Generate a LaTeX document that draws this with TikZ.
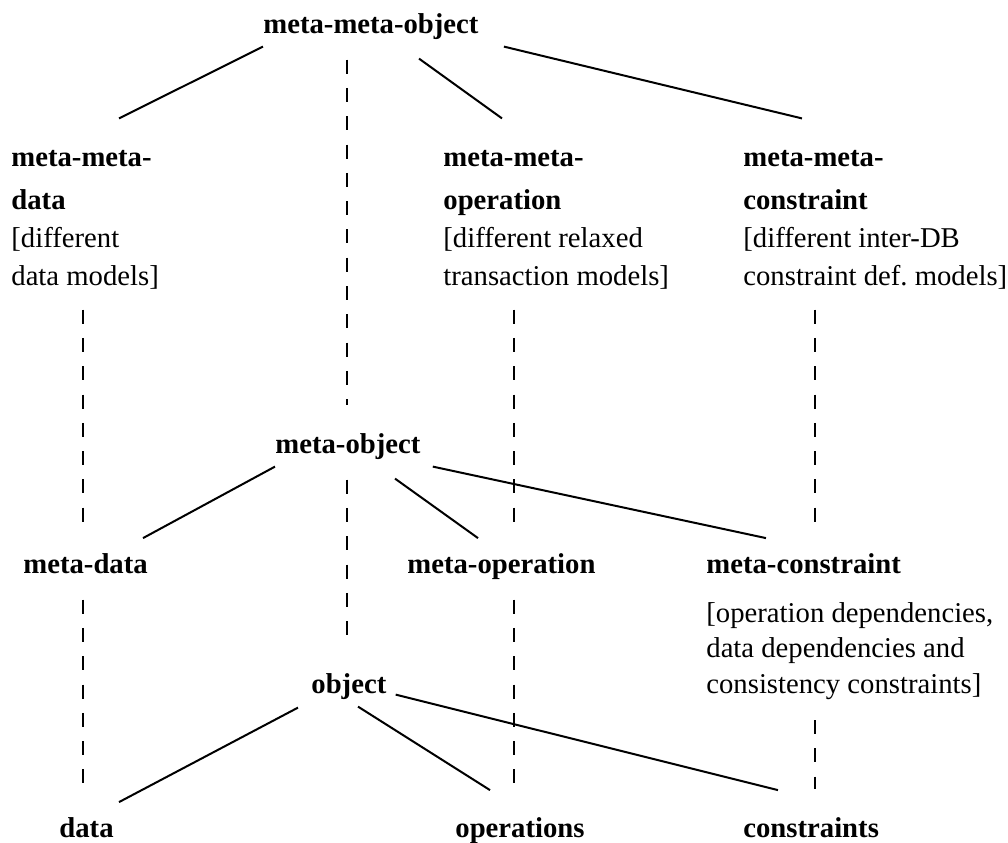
\documentclass[tikz,border=0pt]{standalone}
\usepackage{fontspec}
\setmainfont{Liberation Serif}
\usetikzlibrary{calc}

\begin{document}
\begin{tikzpicture}[
  x=0.5pt, y=-0.5pt,
  every node/.style={inner sep=0pt, font=\fontsize{14.35}{19}\selectfont},
  lbl/.style={anchor=base west, font=\fontsize{14.35}{19}\selectfont\bfseries, text height=9.75pt, text depth=3.1pt},
  col/.style={anchor=north west, align=left},
  link/.style={line width=1pt},
  dashln/.style={line width=1pt, dash pattern=on 7pt off 7.15pt, shorten <=10pt, shorten >=14pt}
]
\useasboundingbox (0,0) rectangle (1008,842);

% column axes for the dashed lines
\coordinate (ax1) at (83,0);
\coordinate (axc) at (347,0);
\coordinate (ax2) at (514,0);
\coordinate (ax3) at (815,0);

% meta-meta level
\node[lbl] (mmo) at (263,33) {meta-meta-object};
\node[col] (mmd) at (11,139.4) {\strut\textbf{meta-meta-}\\[2.5pt]\textbf{data}\\{}[different\\data models]};
\node[col] (mmop) at (443,139.4) {\strut\textbf{meta-meta-}\\[2.5pt]\textbf{operation}\\{}[different relaxed\\transaction models]};
\node[col] (mmc) at (743,139.4) {\strut\textbf{meta-meta-}\\[2.5pt]\textbf{constraint}\\{}[different inter-DB\\constraint def.\ models]};

% meta level
\node[lbl] (mo) at (275,453) {meta-object};
\node[lbl] (md) at (23,573) {meta-data};
\node[lbl] (mop) at (407,573) {meta-operation};
\node[lbl] (mc) at (706,573) {meta-constraint};
\node[col, font=\fontsize{14.35}{17.75}\selectfont] (mcn) at (706,597.15) {\strut[operation dependencies,\\data dependencies and\\consistency constraints]};

% object level
\node[lbl] (ob) at (311,693) {object};
\node[lbl] (da) at (59,837) {data};
\node[lbl] (ops) at (455,837) {operations};
\node[lbl] (cons) at (743,837) {constraints};

% tree links
\draw[link] ($(mmo.south west)+(0,7)$) -- ($(mmd.north west)+(108,-21)$);
\draw[link] ($(mmo.south west)+(156,19)$) -- ($(mmop.north west)+(59,-21)$);
\draw[link] ($(mmo.south east)+(25,7)$) -- ($(mmc.north west)+(59,-21)$);
\draw[link] ($(mo.south west)+(0,7)$) -- ($(md.north west)+(120,-15)$);
\draw[link] ($(mo.south west)+(120,19)$) -- ($(mop.north west)+(71,-15)$);
\draw[link] ($(mo.south east)+(12,7)$) -- ($(mc.north west)+(60,-15)$);
\draw[link] ($(ob.south west)+(-13,8)$) -- ($(da.north west)+(60,-15)$);
\draw[link] ($(ob.south west)+(47,7)$) -- ($(ops.north west)+(35,-27)$);
\draw[link] ($(ob.south east)+(9,-5)$) -- ($(cons.north west)+(35,-27)$);

% instance-of lines
\draw[dashln] (ax1 |- mmd.south) -- (ax1 |- md.north);
\draw[dashln, shorten >=16pt] (ax1 |- md.south) -- (ax1 |- da.north);
\draw[dashln] (axc |- mmo.south) -- (axc |- mo.north);
\draw[dashln, shorten >=19pt] (axc |- mo.south) -- (axc |- ob.north);
\draw[dashln] (ax2 |- mmop.south) -- (ax2 |- mop.north);
\draw[dashln, shorten >=17pt] (ax2 |- mop.south) -- (ax2 |- ops.north);
\draw[dashln] (ax3 |- mmc.south) -- (ax3 |- mc.north);
\draw[dashln] (ax3 |- mcn.south) -- (ax3 |- cons.north);
\end{tikzpicture}
\end{document}
